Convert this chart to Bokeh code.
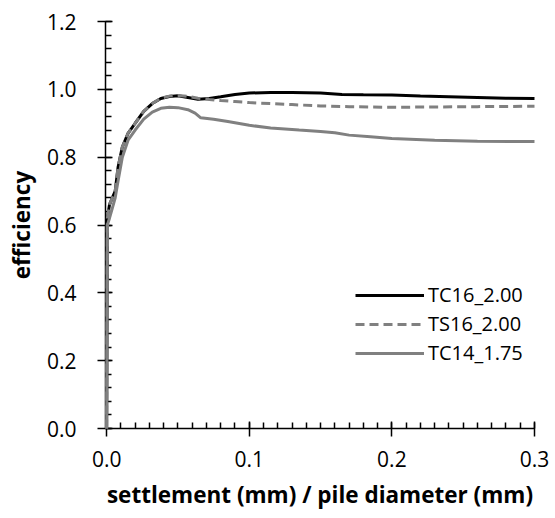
from bokeh.plotting import figure
from bokeh.models import Range1d, FixedTicker, Legend, LegendItem, CustomJSTickFormatter
from bokeh.embed import file_html
from bokeh.resources import INLINE

# ---- data ----
tc16_x = [0, 0.0005, 0.002, 0.004, 0.006, 0.008, 0.011, 0.015, 0.020, 0.026, 0.032, 0.038, 0.044, 0.050,
          0.057, 0.064, 0.072, 0.080, 0.090, 0.100, 0.115, 0.130, 0.150, 0.165, 0.180, 0.200, 0.220,
          0.240, 0.260, 0.280, 0.300]
tc16_y = [0, 0.62, 0.66, 0.68, 0.70, 0.77, 0.83, 0.87, 0.90, 0.935, 0.958, 0.973, 0.979, 0.981,
          0.976, 0.971, 0.973, 0.978, 0.985, 0.989, 0.991, 0.991, 0.989, 0.985, 0.984, 0.983, 0.980,
          0.978, 0.976, 0.974, 0.973]

ts16_x = [0, 0.0005, 0.002, 0.004, 0.006, 0.008, 0.011, 0.015, 0.020, 0.026, 0.032, 0.038, 0.044, 0.050,
          0.057, 0.064, 0.072, 0.080, 0.090, 0.100, 0.115, 0.130, 0.150, 0.170, 0.200, 0.230, 0.260, 0.300]
ts16_y = [0, 0.62, 0.66, 0.68, 0.70, 0.77, 0.83, 0.87, 0.90, 0.935, 0.958, 0.974, 0.980, 0.982,
          0.979, 0.974, 0.970, 0.967, 0.964, 0.961, 0.958, 0.955, 0.951, 0.949, 0.947, 0.948, 0.949, 0.950]

tc14_x = [0, 0.0005, 0.002, 0.004, 0.006, 0.008, 0.011, 0.015, 0.020, 0.026, 0.032, 0.038, 0.044, 0.050,
          0.057, 0.062, 0.066, 0.075, 0.085, 0.100, 0.115, 0.135, 0.150, 0.160, 0.170, 0.185, 0.200,
          0.230, 0.260, 0.300]
tc14_y = [0, 0.60, 0.62, 0.65, 0.68, 0.73, 0.80, 0.85, 0.88, 0.912, 0.933, 0.944, 0.947, 0.946,
          0.940, 0.930, 0.916, 0.912, 0.905, 0.894, 0.886, 0.880, 0.876, 0.872, 0.865, 0.860, 0.855,
          0.850, 0.847, 0.846]

series_names = ["TC16_2.00", "TS16_2.00", "TC14_1.75"]
x_ticks = [0.0, 0.1, 0.2, 0.3]
y_ticks = [0.0, 0.2, 0.4, 0.6, 0.8, 1.0, 1.2]
x_minor = [round(i * 0.01, 3) for i in range(31)]
y_minor = [round(i * 0.04, 3) for i in range(31)]

FONT = "Open Sans"

p = figure(width=552, height=518, output_backend="svg", toolbar_location=None,
           x_range=Range1d(-0.0008, 0.3), y_range=Range1d(0, 1.2),
           min_border_left=105, min_border_right=18, min_border_top=21, min_border_bottom=90)
p.outline_line_color = None
p.xgrid.visible = False
p.ygrid.visible = False
p.background_fill_color = "white"
p.border_fill_color = "white"

r1 = p.line(tc16_x, tc16_y, line_color="black", line_width=3, level="overlay")
r2 = p.line(ts16_x, ts16_y, line_color="#808080", line_width=3, line_dash="9 5", level="overlay")
r3 = p.line(tc14_x, tc14_y, line_color="#808080", line_width=3, level="overlay")

fmt = CustomJSTickFormatter(code="return tick.toFixed(1);")
for ax, ticks, minor in ((p.xaxis[0], x_ticks, x_minor), (p.yaxis[0], y_ticks, y_minor)):
    ax.ticker = FixedTicker(ticks=ticks, minor_ticks=minor)
    ax.formatter = fmt
    ax.axis_line_color = "black"
    ax.axis_line_width = 1.5
    ax.major_tick_line_color = "black"
    ax.major_tick_line_width = 1.5
    ax.minor_tick_line_color = "black"
    ax.minor_tick_line_width = 1.5
    ax.major_tick_in = 7
    ax.major_tick_out = 8
    ax.minor_tick_in = 6
    ax.minor_tick_out = 0
    ax.major_label_text_font = FONT
    ax.major_label_text_font_size = "21px"
    ax.major_label_text_color = "black"
    ax.axis_label_text_font = FONT
    ax.axis_label_text_font_size = "22.5px"
    ax.axis_label_text_font_style = "bold"
    ax.axis_label_text_color = "black"

p.xaxis.axis_label = "settlement (mm) / pile diameter (mm)"
p.yaxis.axis_label = "efficiency"
p.xaxis.major_label_standoff = 14
p.yaxis.major_label_standoff = 21
p.xaxis.axis_label_standoff = 9
p.yaxis.axis_label_standoff = 7

legend = Legend(items=[LegendItem(label=series_names[0], renderers=[r1]),
                       LegendItem(label=series_names[1], renderers=[r2]),
                       LegendItem(label=series_names[2], renderers=[r3])],
                location=(250, 62), border_line_color=None, background_fill_alpha=0,
                label_text_font=FONT, label_text_font_size="20px", label_text_color="black",
                glyph_width=69, glyph_height=20, spacing=2, padding=4, margin=0,
                label_standoff=4)
p.add_layout(legend, "center")

open("out.html", "w").write(file_html(p, INLINE))
